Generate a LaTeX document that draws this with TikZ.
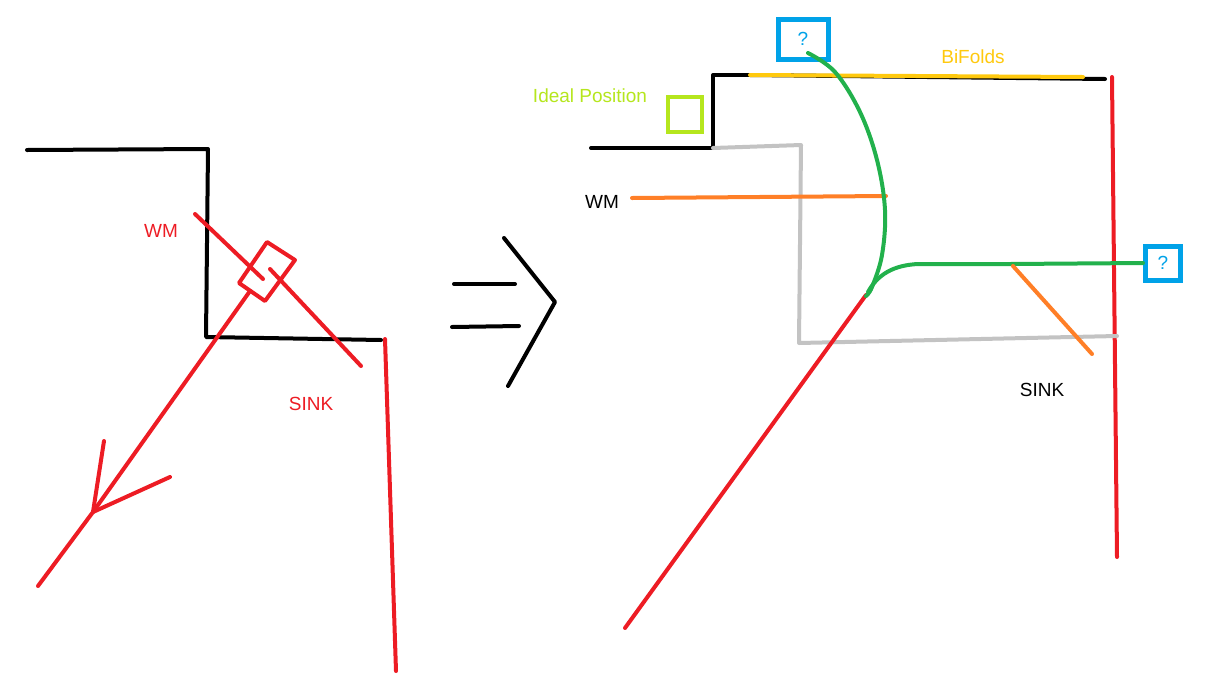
\documentclass[tikz,border=0pt]{standalone}
\usepackage{fontspec}
\setmainfont{Liberation Sans}
\definecolor{pred}{HTML}{ED1C24}
\definecolor{pyel}{HTML}{FFC90E}
\definecolor{pora}{HTML}{FF7F27}
\definecolor{pgrn}{HTML}{22B14C}
\definecolor{pblu}{HTML}{00A2E8}
\definecolor{pgry}{HTML}{C3C3C3}
\definecolor{plim}{HTML}{B5E61D}
\begin{document}
\begin{tikzpicture}[x=1pt,y=-1pt,
  stroke/.style={line width=4pt,line cap=round,line join=round},
  lbl/.style={font=\fontsize{19}{22}\selectfont,inner sep=0pt},
  qbox/.style={draw=pblu,line width=5pt,minimum width=50pt,minimum height=40pt,text=pblu,font=\fontsize{19}{22}\selectfont}]
\useasboundingbox (0,0) rectangle (1211,697);
% ---------- left sketch ----------
\coordinate (la) at (27,150);
\coordinate (lb) at (208,149);
\coordinate (lc) at (206,337);
\coordinate (ld) at (381,340);
\draw[stroke,black] (la) -- (lb) -- (lc) -- (ld);
\coordinate (w1) at (195,214);
\coordinate (w2) at (263,279);
\coordinate (w3) at (270,269);
\coordinate (w4) at (361,366);
\draw[stroke,pred] (w1) -- (w2);
\draw[stroke,pred] (w3) -- (w4);
\coordinate (r1) at (267,242);
\coordinate (r2) at (295,260);
\coordinate (r3) at (265,301);
\coordinate (r4) at (239,283);
\draw[stroke,pred] (r1) -- (r2) -- (r3) -- (r4) -- cycle;
\coordinate (d1) at (250,291);
\coordinate (tip) at (93,512);
\coordinate (d2) at (38,586);
\coordinate (bar1) at (104,441);
\coordinate (bar2) at (170,477);
\draw[stroke,pred] (d1) -- (tip) -- (d2);
\draw[stroke,pred] (bar1) -- (tip) -- (bar2);
\coordinate (s1) at (385,339);
\coordinate (s2) at (396,671);
\draw[stroke,pred] (s1) -- (s2);
\node[lbl,text=pred] (lwm) at (161,231) {WM};
\node[lbl,text=pred] (lsink) at (311,404) {SINK};
% ---------- implies sign ----------
\coordinate (i1) at (454,284);
\coordinate (i2) at (515,284);
\coordinate (i3) at (452,327);
\coordinate (i4) at (519,326);
\coordinate (c1) at (504,238);
\coordinate (c2) at (555,302);
\coordinate (c3) at (508,386);
\draw[stroke,black] (i1) -- (i2);
\draw[stroke,black] (i3) -- (i4);
\draw[stroke,black] (c1) -- (c2) -- (c3);
% ---------- right sketch ----------
\coordinate (ra) at (591,148);
\coordinate (rb) at (713,148);
\coordinate (rc) at (713,75);
\coordinate (rd) at (750,75);
\coordinate (re) at (1083,77);
\coordinate (rf) at (1105,79);
\draw[stroke,black] (ra) -- (rb) -- (rc) -- (rd);
\draw[stroke,black] (rd) -- (rf);
\draw[stroke,pyel] (rd) -- (re);
\coordinate (rv1) at (1112,77);
\coordinate (rv2) at (1117,557);
\draw[stroke,pred] (rv1) -- (rv2);
\coordinate (g1) at (801,145);
\coordinate (g2) at (799,343);
\coordinate (g3) at (1117,336);
\draw[stroke,pgry] (rb) -- (g1) -- (g2) -- (g3);
\coordinate (o1) at (632,198);
\coordinate (o2) at (886,196);
\draw[stroke,pora] (o1) -- (o2);
\coordinate (rl1) at (625,628);
\coordinate (rl2) at (866,295);
\draw[stroke,pred] (rl1) -- (rl2);
\node[qbox,minimum width=50pt,minimum height=40pt] (q1) at (803,39) {?};
\node[qbox,minimum width=35pt,minimum height=34pt] (q2) at (1163,263) {?};
\draw[stroke,pgrn] plot[smooth,tension=0.6] coordinates {(808,53) (835,72) (860,112) (877,160) (885,210) (882,255) (872,287) (866,296)};
\coordinate (gb) at (1010,264);
\draw[stroke,pgrn] (868,292) .. controls (880,270) and (900,265) .. (918,264) -- (gb) -- (q2.west);
\coordinate (ob1) at (1013,266);
\coordinate (ob2) at (1092,354);
\draw[stroke,pora] (ob1) -- (ob2);
\draw[line width=4pt,plim] (668,97) rectangle (702,132);
\node[lbl,text=plim] (ideal) at (590,96) {Ideal Position};
\node[lbl,text=pyel] (bif) at (973,57) {BiFolds};
\node[lbl,text=black] (rwm) at (602,202) {WM};
\node[lbl,text=black] (rsink) at (1042,390) {SINK};
\end{tikzpicture}
\end{document}
